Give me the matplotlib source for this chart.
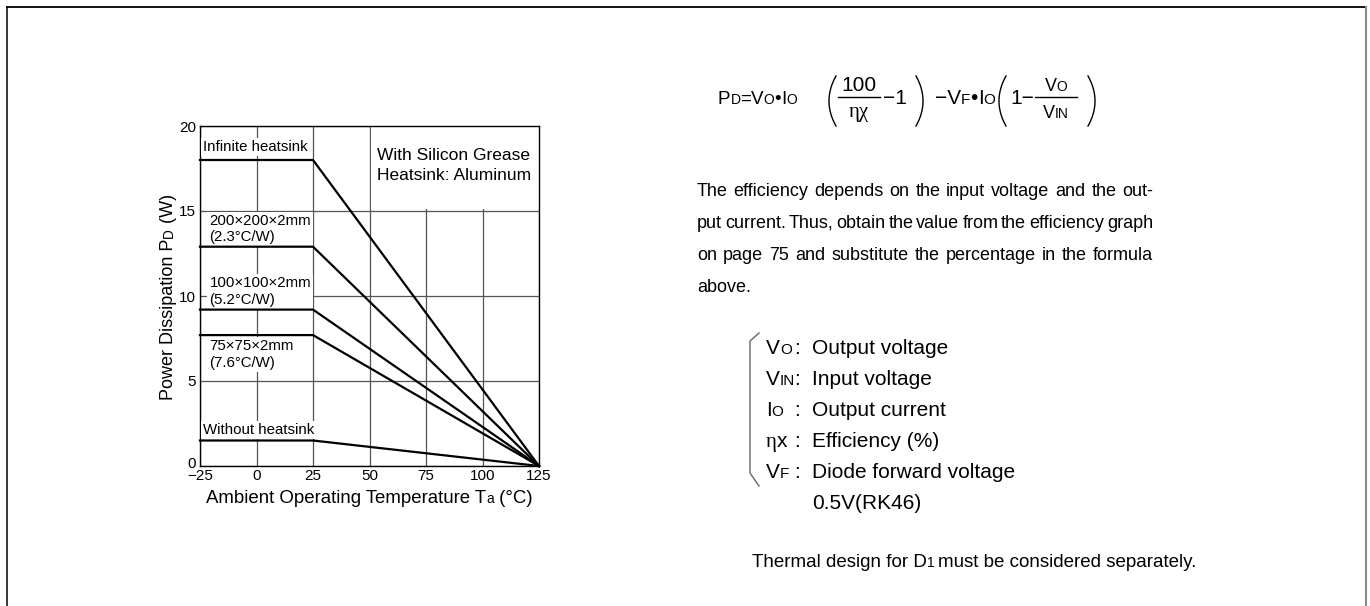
import numpy as np
import matplotlib
matplotlib.use('Agg')
import matplotlib.pyplot as plt
from matplotlib.patches import Rectangle
from matplotlib.transforms import ScaledTranslation

plt.rcParams['font.family'] = ['Liberation Sans', 'DejaVu Sans']

# derating: flat up to 25 degC, then straight to zero at 125 degC
temp = [-25, 25, 125]
pd_flat = [18.0, 12.9, 9.2, 7.7, 1.5]
pd_end = 0.0

x_ticks = [-25, 0, 25, 50, 75, 100, 125]
y_ticks = [0, 5, 10, 15, 20]

curve_labels = ['Infinite heatsink', '200×200×2mm\n(2.3°C/W)', '100×100×2mm\n(5.2°C/W)',
                '75×75×2mm\n(7.6°C/W)', 'Without heatsink']
label_x = [-23.8, -20.8, -20.8, -20.8, -23.8]
label_y = [18.75, 13.93, 10.27, 6.56, 2.12]

para = ['The efficiency depends on the input voltage and the out-',
        'put current. Thus, obtain the value from the efficiency graph',
        'on page 75 and substitute the percentage in the formula',
        'above.']

# symbol (main, small), description
defs = [('V', 'O', 'Output voltage'),
        ('V', 'IN', 'Input voltage'),
        ('I', 'O', 'Output current'),
        ('ηx', '', 'Efficiency (%)'),
        ('V', 'F', 'Diode forward voltage'),
        ('', '', '0.5V(RK46)')]

fig = plt.figure(figsize=(13.7, 6.06), dpi=100)
ax = fig.add_axes([200 / 1370, 140 / 606, 339 / 1370, 340 / 606])
ax.set_xlim(-25, 125)
ax.set_ylim(0, 20)
ax.set_xticks(x_ticks)
ax.set_yticks(y_ticks)
ax.tick_params(length=0, labelsize=11, pad=3, colors='black')
ax.tick_params(axis='x', pad=2)
ax.set_axisbelow(True)
ax.grid(color='#555555', lw=0.9)
for s in ax.spines.values():
    s.set_linewidth(1.0)
fig.canvas.draw()
# the 0 on the y axis sits a little higher, clear of -25
lab0 = ax.get_yticklabels()[0]
lab0.set_transform(lab0.get_transform() + ScaledTranslation(0, 4 / 100, fig.dpi_scale_trans))

# white box behind the note, hiding the grid there
ax.add_patch(Rectangle((50.8, 15.12), 74.2, 4.88, facecolor='white', edgecolor='none', zorder=1))
ax.text(53.3, 17.68, 'With Silicon Grease\nHeatsink: Aluminum', fontsize=12.5, va='center', ha='left',
        linespacing=1.4, zorder=3)

for v in pd_flat:
    ax.plot(temp, [v, v, pd_end], color='black', lw=1.6, zorder=4, clip_on=False)

for lab, lx, ly in zip(curve_labels, label_x, label_y):
    ax.text(lx, ly, lab, fontsize=10.8, va='center', ha='left', linespacing=1.22, zorder=3,
            bbox=dict(facecolor='white', edgecolor='none', pad=1.5))

# overlay in pixel coordinates (y down)
ov = fig.add_axes([0, 0, 1, 1], zorder=5)
ov.set_xlim(0, 1370)
ov.set_ylim(606, 0)
ov.axis('off')

rend = fig.canvas.get_renderer()


def put(x, y, s, size=14, gap=0.0, rot=0, **kw):
    t = ov.text(x, y, s, fontsize=size, ha='left', va='baseline', rotation=rot,
                rotation_mode='anchor', **kw)
    bb = t.get_window_extent(rend)
    return (bb.height if rot else bb.width) + gap


def width(s, size=14, **kw):
    t = ov.text(0, 0, s, fontsize=size, **kw)
    w = t.get_window_extent(rend).width
    t.remove()
    return w


def chain(x, y, pieces, **kw):
    for s, z in pieces:
        x += put(x, y, s, z, **kw)
    return x


# page frame
ov.plot([7, 1366], [7, 7], color='black', lw=1.3)
ov.plot([7, 7], [7, 606], color='black', lw=1.1)
ov.plot([1366, 1366], [7, 606], color='#888888', lw=1.5)

# axis labels built from pieces so the small letters sit on the baseline
xl = [('Ambient Operating Temperature T', 13.4), ('a', 9.8), (' (°C)', 13.4)]
tot = sum(width(s, z) for s, z in xl)
chain(369.5 - tot / 2, 503, xl)

yl = [('Power Dissipation P', 13), ('D', 9.8), (' (W)', 13)]
tot = sum(width(s, z) for s, z in yl)
y = 297 + tot / 2
for s, z in yl:
    y -= put(173, y, s, z, rot=90)


# formula
def paren(xc, left, y0=76, y1=126, sag=7):
    t = np.linspace(-1, 1, 40)
    yy = (y0 + y1) / 2 + t * (y1 - y0) / 2
    xx = sag * (1 - t ** 2)
    ov.plot(xc - xx if left else xc + xx, yy, color='black', lw=1.0)


yb = 104
chain(718, yb, [('P', 13.5), ('D', 10), ('=', 13.5), ('V', 13.5), ('O', 10),
                ('•', 13.5), ('I', 13.5), ('O', 10)])
paren(836, True)
ov.plot([838, 880], [97, 97], color='black', lw=1.0)
ov.text(859, 91, '100', fontsize=15, ha='center', va='baseline')
ov.text(859, 117, 'ηχ', fontsize=15, ha='center', va='baseline', family='Liberation Serif')
put(883, yb, '−1', 15)
paren(916, False)
chain(935, yb, [('−V', 15), ('F', 11), ('•', 15), ('I', 15), ('O', 11)])
paren(1006, True)
put(1010, yb, '1−', 15)
ov.plot([1035, 1077], [97, 97], color='black', lw=1.0)
num = [('V', 13), ('O', 10)]
chain(1056 - sum(width(s, z) for s, z in num) / 2, 91, num)
den = [('V', 13), ('IN', 10)]
chain(1056 - sum(width(s, z) for s, z in den) / 2, 118, den)
paren(1088, False)

# justified paragraph
M = 13
x0, x1 = 697, 1153
for i, line in enumerate(para):
    yy = 196 + 32 * i
    words = line.split(' ')
    if i == len(para) - 1:
        ov.text(x0, yy, line, fontsize=M, ha='left', va='baseline')
        continue
    ws = [width(w, M) for w in words]
    g = (x1 - x0 - sum(ws)) / (len(words) - 1)
    xx = x0
    for w, wd in zip(words, ws):
        ov.text(xx, yy, w, fontsize=M, ha='left', va='baseline')
        xx += wd + g

# definitions with a thin brace
L, LS = 15, 11
ov.plot([759, 750, 750, 759], [333, 341, 473, 486], color='#666666', lw=1.0)
for i, (sym, sub, desc) in enumerate(defs):
    yy = 354 + 31 * i
    if sym:
        if sym == 'ηx':
            xx = 766 + put(766, yy, 'η', L, family='Liberation Serif')
            put(xx, yy, 'x', L)
        else:
            chain(766, yy, [(sym, L), (sub, LS)])
        put(794, yy, ':', L)
    ov.text(812, yy, desc, fontsize=L, ha='left', va='baseline')

# footer
x = chain(752, 567, [('Thermal design for D', 13.5), ('1', 10)])
ov.text(x + 4, 567, 'must be considered separately.', fontsize=13.5, ha='left', va='baseline')

fig.savefig('out.png', dpi=100)
